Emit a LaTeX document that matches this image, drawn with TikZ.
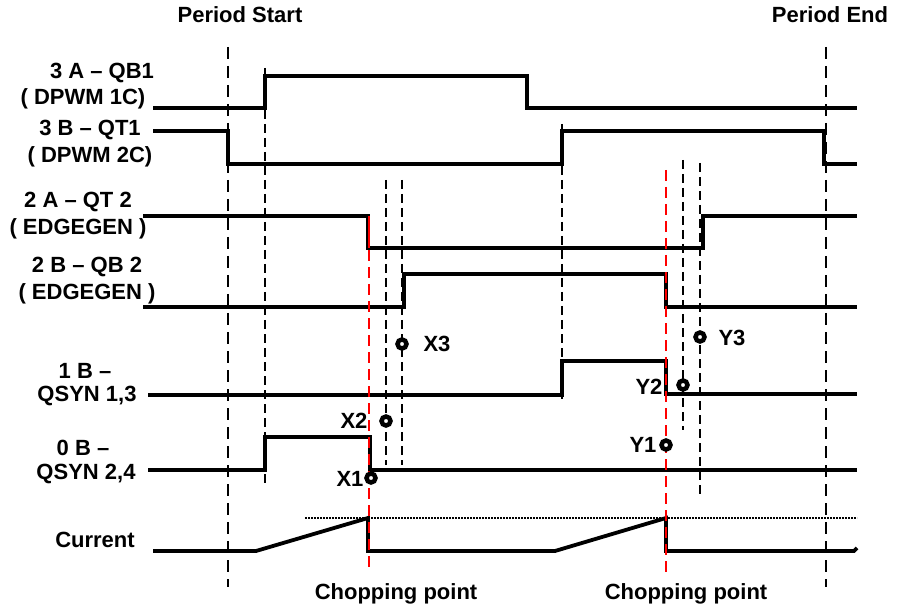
\documentclass[tikz,border=0pt]{standalone}
\usepackage{fontspec}
\setmainfont{Liberation Sans}
\begin{document}
\begin{tikzpicture}[x=1pt,y=-1pt,
  lbl/.style={font=\fontsize{22}{24}\selectfont\bfseries, inner sep=0pt, anchor=center},
  wave/.style={line width=3.8pt, line join=miter, line cap=butt},
  vdash/.style={line width=1.4pt, dash pattern=on 12pt off 7pt},
  vdashs/.style={line width=1.3pt, dash pattern=on 9pt off 5pt},
  rdash/.style={red, line width=1.3pt, dash pattern=on 11pt off 6pt},
  dotline/.style={line width=1.6pt, dash pattern=on 2pt off 1pt},
  pmark/.style={circle, draw=black, line width=4.5pt, fill=white, minimum size=9pt, inner sep=0pt}
]
\useasboundingbox (0,0) rectangle (904,609);
\fill[white] (0,0) rectangle (904,609);

% vertical dashed guides
\draw[vdash] (228,47) -- (228,587);
\draw[vdash] (826,47) -- (826,587);
\draw[vdashs] (265,68) -- (265,485);
\draw[vdashs] (562,124) -- (562,403);
\draw[vdashs] (386,180) -- (386,465);
\draw[vdashs] (402,180) -- (402,465);
\draw[vdashs] (683,160) -- (683,430);
\draw[vdashs] (700,163) -- (700,498);

% dotted current limit
\draw[dotline] (305,518) -- (857,518);

% waveforms
\draw[wave] (153,108) -- (265,108) -- (265,76) -- (527,76) -- (527,108) -- (857,108);
\draw[wave] (153,131) -- (228,131) -- (228,164) -- (562,164) -- (562,131) -- (824,131) -- (824,164) -- (857,164);
\draw[wave] (143,216) -- (368,216) -- (368,248) -- (703,248) -- (703,216) -- (857,216);
\draw[wave] (143,307) -- (404,307) -- (404,274) -- (666,274) -- (666,307) -- (857,307);
\draw[wave] (148,395) -- (562,395) -- (562,361) -- (666,361) -- (666,394) -- (857,394);
\draw[wave] (148,470) -- (265,470) -- (265,437) -- (370,437) -- (370,470) -- (857,470);
\draw[wave] (153,551) -- (256,551) -- (368,518) -- (368,551) -- (555,551) -- (666,518) -- (666,551) -- (854,551) -- (857,548);

% red chopping lines
\draw[red, line width=1.6pt] (369,216) -- (369,248);
\draw[rdash] (369,250) -- (369,570);
\draw[rdash] (666,170) -- (666,577);

% markers
\node[pmark] (x1) at (371,478) {};
\node[pmark] (x2) at (386,421) {};
\node[pmark] (x3) at (402,344) {};
\node[pmark] (y1) at (666,445) {};
\node[pmark] (y2) at (683,385) {};
\node[pmark] (y3) at (700,337) {};
\node[lbl] (lx1) at (350,479) {X1};
\node[lbl] (lx2) at (354,421) {X2};
\node[lbl] (lx3) at (437,344) {X3};
\node[lbl] (ly1) at (643,445) {Y1};
\node[lbl] (ly2) at (649,387) {Y2};
\node[lbl] (ly3) at (732,338) {Y3};

% titles
\node[lbl] (ps) at (240,15) {Period Start};
\node[lbl] (pe) at (830,15) {Period End};
\node[lbl] (cp1) at (396,594) {Chopping point};
\node[lbl] (cp2) at (686,594) {Chopping point};

% signal labels
\node[lbl] (s1a) at (102,73) {3 A – QB1};
\node[lbl] (s1b) at (83,99) {( DPWM 1C)};
\node[lbl] (s2a) at (90,130) {3 B – QT1};
\node[lbl] (s2b) at (90,157) {( DPWM 2C)};
\node[lbl] (s3a) at (78,202) {2 A – QT 2};
\node[lbl] (s3b) at (78,229) {( EDGEGEN )};
\node[lbl] (s4a) at (87,267) {2 B – QB 2};
\node[lbl] (s4b) at (87,294) {( EDGEGEN )};
\node[lbl] (s5a) at (85,371) {1 B –};
\node[lbl] (s5b) at (87,396) {QSYN 1,3};
\node[lbl] (s6a) at (83,448) {0 B –};
\node[lbl] (s6b) at (86,474) {QSYN 2,4};
\node[lbl] (s7) at (95,540) {Current};
\end{tikzpicture}
\end{document}
